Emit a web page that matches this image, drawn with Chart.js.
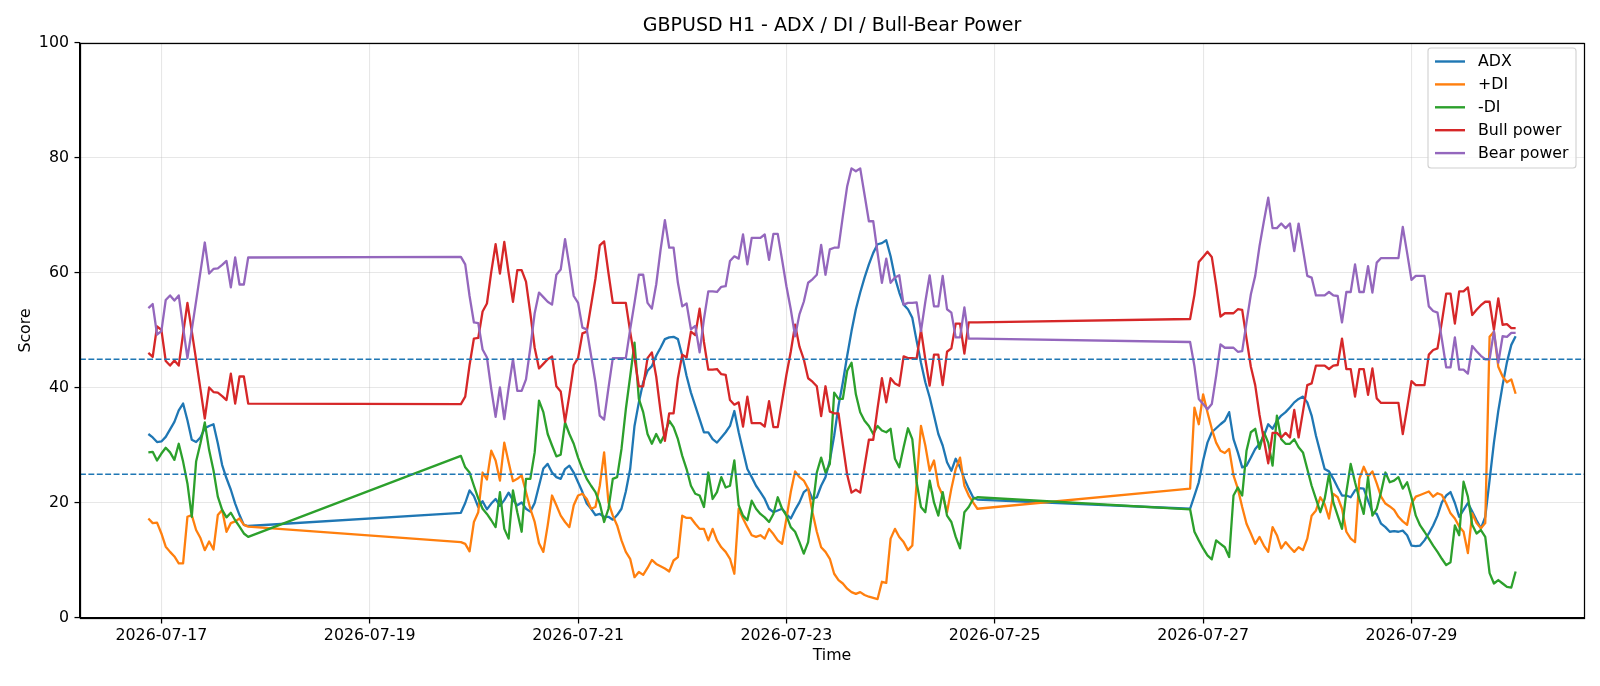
<!DOCTYPE html>
<html>
<head>
<meta charset="utf-8">
<script src="https://cdn.jsdelivr.net/npm/chart.js@4.4.1/dist/chart.umd.min.js"></script>
<style>
  html, body { margin: 0; padding: 0; background: #ffffff; }
  #wrap { width: 1600px; height: 686px; }
</style>
</head>
<body>
<div id="wrap"><canvas id="c" width="1600" height="686"></canvas></div>
<script>
// ---- data (hourly bars, three trading sessions) ----
const sessions = [["2026-07-16T21:00:00Z", 24], ["2026-07-19T21:00:00Z", 120], ["2026-07-26T21:00:00Z", 76]];
const xTickLabels = ["2026-07-17", "2026-07-19", "2026-07-21", "2026-07-23", "2026-07-25", "2026-07-27", "2026-07-29"];
const yTickStep = 20;
const thresholds = [45, 25];
const seriesNames = ["ADX", "+DI", "-DI", "Bull power", "Bear power"];

const adx = [32.0, 31.4, 30.6, 30.7, 31.5, 32.8, 34.1, 36.1, 37.3, 34.4, 31.0, 30.6, 31.4, 33.0, 33.4, 33.7, 30.4, 26.6, 24.3, 22.3, 19.9, 17.9, 16.2, 16.0,
  18.3, 20, 22.2, 21.2, 19.3, 20.3, 18.9, 19.9, 20.7, 19.5, 20.5, 21.8, 20.5, 19.6, 20.1, 19, 18.5, 20, 23,
  26, 26.8, 25.3, 24.5, 24.2, 25.9, 26.5, 25.3, 23.6, 21.9, 19.9, 19, 17.9, 18.1, 17.6, 17.6, 17.1, 17.9, 19, 22,
  25.9, 33.4, 37.5, 41, 43, 43.8, 45.6, 47, 48.5, 48.8, 48.9, 48.5, 45.6, 42.1, 39.2, 36.9, 34.6, 32.3, 32.3,
  31.1, 30.5, 31.4, 32.3, 33.4, 36, 32.3, 29.1, 25.9, 24.5, 23, 21.9, 20.7, 19, 18.4, 18.7, 19, 18.1, 17.3, 18.8,
  20.1, 21.9, 22.5, 20.7, 21, 23, 24.5, 27.4, 31.7, 36.9, 41, 45.6, 49.9, 53.7, 56.6, 59.2, 61.5, 63.5, 65, 65.2,
  65.7, 62.9, 59.2, 56.6, 54.5, 53.7, 52.2, 48.2, 44.4, 41, 38.4, 35.2, 32, 30, 27.1, 25.6, 27.7, 26.2, 24.2, 22.5, 21, 20.6,
  19, 21.3, 23.6, 27.4, 30.5, 32.3, 33, 33.7, 34.3, 35.8, 31.1, 28.8, 26.2, 26.5, 27.9, 29.4, 30.3, 31.7, 33.7, 32.9, 34.3,
  35.2, 35.8, 36.6, 37.5, 38.1, 38.5, 37.5, 35.2, 31.7, 28.8, 25.9, 25.5, 24.2, 22.7, 21.3, 21.3, 21, 22.2, 22.6, 22.5,
  20.4, 18.4, 18.1, 16.4, 15.8, 15, 15.1, 15, 15.2, 14.4, 12.6, 12.5, 12.6, 13.5, 14.7, 16.1, 17.8, 20.1, 21.3, 21.9, 20,
  17.6, 18.8, 20, 18.5, 17, 15.6, 17.6, 24, 30.5, 36, 40.5, 44.5, 47.5, 49];

const plusDI = [17.3, 16.5, 16.6, 14.7, 12.4, 11.5, 10.7, 9.5, 9.5, 17.6, 17.9, 15.3, 13.9, 11.8, 13.3, 11.9, 17.9, 18.8, 15.0, 16.5, 16.8, 17.3, 16.2, 15.9,
  13.2, 12.9, 11.6, 16.7, 18.4, 25.3, 24.1, 29.1, 27.4, 23.9, 30.5, 27.1, 23.8, 24.2, 24.8, 21.9, 19, 16.7, 13,
  11.5, 16.1, 21.3, 19.6, 17.8, 16.7, 15.8, 19.6, 21.3, 21.6, 20.7, 19, 19.3, 23, 28.8, 20.1, 17.8, 16.1, 13.5, 11.5,
  10.3, 7.1, 8, 7.5, 8.7, 10.1, 9.4, 9, 8.6, 8.1, 10, 10.6, 17.8, 17.4, 17.4, 16.4, 15.5, 15.5, 13.5,
  15.5, 13.5, 12.3, 11.5, 10.3, 7.7, 19, 17.3, 15.8, 14.4, 14.1, 14.4, 13.8, 15.5, 14.6, 13.5, 12.9, 17.3, 21.9, 25.5,
  24.5, 23.9, 22.5, 18.4, 15, 12.3, 11.5, 10.3, 7.7, 6.6, 6, 5.1, 4.5, 4.2, 4.5, 4, 3.7, 3.5, 3.3, 6.3,
  6.1, 13.8, 15.5, 14.1, 13.2, 11.8, 12.6, 23.6, 33.4, 30, 25.6, 27.4, 23, 21.3, 18.4, 22.5, 25.9, 27.9, 23, 21.3, 20.1, 19,
  22.5, 36.6, 33.7, 38.9, 35.8, 32.9, 30.5, 29.1, 28.7, 29.4, 24.8, 22.5, 19.3, 16.4, 14.7, 12.9, 14.1, 12.6, 11.5, 15.8, 14.4,
  12.1, 13.2, 12.3, 11.5, 12.3, 11.8, 13.8, 17.8, 18.7, 21, 19.8, 17.3, 21.6, 21, 19, 15, 13.8, 13.2, 24.2, 26.3,
  24.6, 25.5, 23.4, 21.1, 19.9, 19.4, 18.8, 17.6, 16.8, 16.2, 19.9, 21.1, 21.4, 21.7, 22, 21.1, 21.7, 21.4, 19.9, 18.2, 17.3,
  15.9, 15, 11.3, 18.2, 16.5, 15.6, 16.5, 48.9, 49.8, 43.7, 42, 41, 41.5, 39];

const minusDI = [28.8, 28.9, 27.4, 28.6, 29.6, 28.8, 27.5, 30.3, 27.2, 23.4, 17.6, 27.2, 30.4, 34.0, 29.2, 25.7, 21.1, 18.8, 17.5, 18.3, 17.0, 15.9, 14.7, 14.1,
  28.2, 26.2, 25.3, 23, 20.8, 19, 18.1, 17, 15.8, 21.9, 15.5, 13.8, 22.2, 18.4, 15, 24.2, 24.2, 28.8, 37.8,
  35.8, 32, 30, 28.1, 28.4, 34, 32, 30.3, 27.9, 25.9, 24.2, 23, 21.9, 19.9, 16.7, 19, 24.2, 24.5, 29.4, 36.3,
  42, 47.9, 38.1, 35.8, 32, 30.3, 32, 30.5, 32, 34.3, 33.2, 31.1, 28.2, 25.9, 23, 21.6, 21.3, 19.3, 25.3,
  20.7, 21.9, 24.5, 22.7, 23, 27.4, 19.6, 17.8, 17, 20.4, 19, 18.1, 17.5, 16.7, 18.1, 21, 19, 17.8, 15.8, 15,
  13.2, 11.2, 13.2, 19, 25.3, 27.9, 25.3, 26.8, 39.2, 38.1, 38.1, 43, 44.4, 38.9, 35.8, 34.3, 33.4, 32, 33.4, 32.6,
  32.3, 32.9, 27.7, 26.2, 29.7, 33, 31.1, 23.6, 19.3, 18.4, 23.9, 20.1, 17.8, 21.9, 17.8, 16.7, 14.1, 12.1, 18.4, 19.3, 20.7, 21,
  18.9, 15, 13.5, 12.1, 10.9, 10.2, 13.5, 12.9, 12.3, 10.6, 21.3, 22.7, 21.3, 29.1, 32.3, 32.9, 29.4, 32.3, 30.5, 26.5, 35.2,
  31.1, 30.3, 30.3, 31.1, 29.7, 28.8, 25.9, 23, 20.7, 18.4, 20.7, 25, 20.1, 17.8, 15.5, 21.9, 26.8, 23.6, 20.7, 18.1,
  24.5, 17.8, 19, 21.9, 25.3, 23.6, 23.9, 24.5, 22.5, 23.6, 21, 17.8, 16.1, 15, 13.8, 12.6, 11.5, 10.3, 9.2, 9.7, 16.1,
  14.4, 23.7, 21.1, 16.2, 14.7, 15.3, 14.1, 7.8, 6, 6.6, 6, 5.4, 5.3, 8.1];

const bullPower = [46.1, 45.4, 50.7, 50.1, 44.7, 43.9, 44.8, 43.9, 49.4, 54.8, 49.9, 44.9, 39.8, 34.7, 40.1, 39.3, 39.2, 38.6, 37.9, 42.5, 37.3, 42.0, 42.0, 37.3,
  37.2, 38.5, 44, 48.6, 48.7, 53.3, 54.7, 60.2, 65, 59.9, 65.4, 60, 55, 60.5, 60.5, 58.5, 53, 47, 43.4,
  44.2, 45, 45.5, 40.3, 39.4, 34.1, 38.8, 44, 45.2, 49.5, 49.8, 54.4, 59, 64.8, 65.5, 60, 54.8, 54.8, 54.8, 54.8,
  49.8, 45.2, 40.3, 40.3, 45.2, 46.2, 42, 36, 30.8, 35.6, 35.6, 41.7, 45.8, 45.3, 49.8, 49.2, 53.8, 48, 43.2,
  43.2, 43.3, 42.4, 42.3, 37.9, 37.1, 37.5, 33.3, 38.5, 33.9, 33.9, 33.9, 33.3, 37.7, 33.2, 33.2, 37.7, 42.3, 46.3, 51,
  47.2, 45, 41.7, 41.1, 40.3, 35.1, 40.3, 35.9, 35.6, 35.6, 30.1, 24.9, 21.8, 22.3, 21.8, 26.4, 31, 31, 36.5, 41.7,
  37.5, 41.7, 40.8, 40.4, 45.5, 45.2, 45.2, 45.1, 50.1, 45, 40.4, 45.8, 45.8, 40.5, 46.3, 46.9, 51.2, 51.2, 46, 51.4, 51.4, 51.4,
  52, 56.2, 61.9, 62.8, 63.7, 62.8, 57.9, 52.4, 53, 53, 53, 53.7, 53.6, 48.6, 43.7, 40.5, 35.3, 31, 26.9, 32.2, 32.2,
  31.4, 32.2, 31.4, 36.2, 31.4, 35.9, 40.5, 40.8, 43.9, 43.9, 43.9, 43.3, 43.9, 44, 48.6, 43.3, 43.3, 38.5, 43.3, 43.3,
  38.8, 43.4, 38.2, 37.4, 37.4, 37.4, 37.4, 37.4, 32, 36.5, 41.2, 40.5, 40.5, 40.5, 45.8, 46.6, 46.9, 51.5, 56.4, 56.4, 51.2,
  56.8, 56.8, 57.5, 52.7, 53.6, 54.4, 55, 55, 50.1, 55.6, 51, 51.1, 50.4, 50.4];

const bearPower = [53.9, 54.6, 49.3, 49.9, 55.3, 56.1, 55.2, 56.1, 50.6, 45.2, 50.1, 55.1, 60.2, 65.3, 59.9, 60.7, 60.8, 61.4, 62.1, 57.5, 62.7, 58.0, 58.0, 62.7,
  62.8, 61.5, 56, 51.4, 51.3, 46.7, 45.3, 39.8, 35, 40.1, 34.6, 40, 45, 39.5, 39.5, 41.5, 47, 53, 56.6,
  55.8, 55, 54.5, 59.7, 60.6, 65.9, 61.2, 56, 54.8, 50.5, 50.2, 45.6, 41, 35.2, 34.5, 40, 45.2, 45.2, 45.2, 45.2,
  50.2, 54.8, 59.7, 59.7, 54.8, 53.8, 58, 64, 69.2, 64.4, 64.4, 58.3, 54.2, 54.7, 50.2, 50.8, 46.2, 52, 56.8,
  56.8, 56.7, 57.6, 57.7, 62.1, 62.9, 62.5, 66.7, 61.5, 66.1, 66.1, 66.1, 66.7, 62.3, 66.8, 66.8, 62.3, 57.7, 53.7, 49,
  52.8, 55, 58.3, 58.9, 59.7, 64.9, 59.7, 64.1, 64.4, 64.4, 69.9, 75.1, 78.2, 77.7, 78.2, 73.6, 69, 69, 63.5, 58.3,
  62.5, 58.3, 59.2, 59.6, 54.5, 54.8, 54.8, 54.9, 49.9, 55, 59.6, 54.2, 54.2, 59.5, 53.7, 53.1, 48.8, 48.8, 54, 48.6, 48.6, 48.6,
  48, 43.8, 38.1, 37.2, 36.3, 37.2, 42.1, 47.6, 47, 47, 47, 46.3, 46.4, 51.4, 56.3, 59.5, 64.7, 69, 73.1, 67.8, 67.8,
  68.6, 67.8, 68.6, 63.8, 68.6, 64.1, 59.5, 59.2, 56.1, 56.1, 56.1, 56.7, 56.1, 56, 51.4, 56.7, 56.7, 61.5, 56.7, 56.7,
  61.2, 56.6, 61.8, 62.6, 62.6, 62.6, 62.6, 62.6, 68, 63.5, 58.8, 59.5, 59.5, 59.5, 54.2, 53.4, 53.1, 48.5, 43.6, 43.6, 48.8,
  43.2, 43.2, 42.5, 47.3, 46.4, 45.6, 45, 45, 49.9, 44.4, 49, 48.9, 49.6, 49.6];

// ---- build ----
const seriesValues = [adx, plusDI, minusDI, bullPower, bearPower];
const seriesColors = ["#1f77b4", "#ff7f0e", "#2ca02c", "#d62728", "#9467bd"];

const times = [];
sessions.forEach(([start, n]) => {
  const t0 = Date.parse(start);
  for (let i = 0; i < n; i++) times.push(t0 + i * 3600000);
});
const tFirst = times[0], tLast = times[times.length - 1];
const span = tLast - tFirst;
const xMin = tFirst - 0.05 * span, xMax = tLast + 0.05 * span;
const tickValues = xTickLabels.map(s => Date.parse(s + "T00:00:00Z"));

const FAMILY = "'DejaVu Sans', 'Liberation Sans', sans-serif";
const FS = 15.8;                      // 10pt at the figure's resolution
const tickFont = { family: FAMILY, size: FS };
Chart.defaults.color = "#000";
Chart.defaults.font.family = FAMILY;

const gridColor = "rgba(176,176,176,0.3)";

const decor = {
  id: "decor",
  afterDatasetsDraw(chart) {
    const { ctx, chartArea: a, scales: { y } } = chart;
    ctx.save();
    ctx.strokeStyle = "#1f77b4";
    ctx.lineWidth = 1.6;
    ctx.setLineDash([5.9, 2.5]);
    thresholds.forEach(v => {
      const py = y.getPixelForValue(v);
      ctx.beginPath();
      ctx.moveTo(a.left, py);
      ctx.lineTo(a.right, py);
      ctx.stroke();
    });
    ctx.restore();
  },
  afterDraw(chart) {
    const { ctx, chartArea: a } = chart;
    ctx.save();
    // spines
    ctx.strokeStyle = "#000";
    ctx.lineWidth = 1.25;
    ctx.strokeRect(Math.round(a.left) + 0.5, Math.round(a.top) + 0.5, Math.round(a.right - a.left), Math.round(a.bottom - a.top));
    // legend (upper right)
    const bw = 148, bh = 120;
    const bx = a.right - 8 - bw, by = a.top + 5;
    const r = 3;
    ctx.beginPath();
    ctx.moveTo(bx + r, by);
    ctx.lineTo(bx + bw - r, by); ctx.quadraticCurveTo(bx + bw, by, bx + bw, by + r);
    ctx.lineTo(bx + bw, by + bh - r); ctx.quadraticCurveTo(bx + bw, by + bh, bx + bw - r, by + bh);
    ctx.lineTo(bx + r, by + bh); ctx.quadraticCurveTo(bx, by + bh, bx, by + bh - r);
    ctx.lineTo(bx, by + r); ctx.quadraticCurveTo(bx, by, bx + r, by);
    ctx.closePath();
    ctx.fillStyle = "rgba(255,255,255,0.8)";
    ctx.fill();
    ctx.strokeStyle = "#d0d0d0";
    ctx.lineWidth = 1.1;
    ctx.stroke();
    ctx.font = FS + "px " + FAMILY;
    ctx.textBaseline = "middle";
    ctx.textAlign = "left";
    chart.data.datasets.forEach((ds, i) => {
      const cy = by + 13.5 + i * 22.9;
      ctx.strokeStyle = ds.borderColor;
      ctx.lineWidth = 2.4;
      ctx.beginPath();
      ctx.moveTo(bx + 7, cy);
      ctx.lineTo(bx + 37, cy);
      ctx.stroke();
      ctx.fillStyle = "#000";
      ctx.fillText(ds.label, bx + 50, cy + 0.5);
    });
    ctx.restore();
  }
};

new Chart(document.getElementById("c"), {
  type: "line",
  data: {
    datasets: seriesNames.map((name, i) => ({
      label: name,
      data: seriesValues[i].map((v, j) => ({ x: times[j], y: v })),
      borderColor: seriesColors[i],
      backgroundColor: seriesColors[i],
      borderWidth: 2.3,
      pointRadius: 0,
      pointHoverRadius: 0,
      tension: 0,
      fill: false,
      borderJoinStyle: "round",
      order: seriesNames.length - i
    }))
  },
  options: {
    responsive: false,
    devicePixelRatio: 1,
    animation: false,
    events: [],
    layout: { padding: { left: 0, right: 16, top: 0, bottom: 0 } },
    plugins: {
      legend: { display: false },
      tooltip: { enabled: false },
      title: {
        display: true,
        fullSize: false,
        text: "GBPUSD H1 - ADX / DI / Bull-Bear Power",
        color: "#000",
        font: { family: FAMILY, size: 19, weight: "normal" },
        padding: { top: 14.4, bottom: 5.8 }
      }
    },
    scales: {
      x: {
        type: "linear",
        min: xMin,
        max: xMax,
        afterBuildTicks: (s) => { s.ticks = tickValues.map(v => ({ value: v })); },
        afterFit: (s) => { s.height = 68; },
        ticks: {
          autoSkip: false, maxRotation: 0, padding: 2.5, font: tickFont, color: "#000",
          callback: (v, idx) => xTickLabels[idx]
        },
        grid: { color: gridColor, lineWidth: 1.1, tickColor: "#000", tickLength: 5.5, tickWidth: 1.25 },
        border: { display: true, color: "#000", width: 1.25 },
        title: { display: true, text: "Time", font: tickFont, color: "#000", padding: { top: 0, bottom: 20.5 } }
      },
      y: {
        min: 0,
        max: 100,
        afterFit: (s) => { s.width = 80; },
        ticks: { stepSize: yTickStep, padding: 5.5, font: tickFont, color: "#000" },
        grid: { color: gridColor, lineWidth: 1.1, tickColor: "#000", tickLength: 5.5, tickWidth: 1.25 },
        border: { display: true, color: "#000", width: 1.25 },
        title: { display: true, text: "Score", font: tickFont, color: "#000", padding: { top: 16, bottom: 0 } }
      }
    }
  },
  plugins: [decor]
});
</script>
</body>
</html>
